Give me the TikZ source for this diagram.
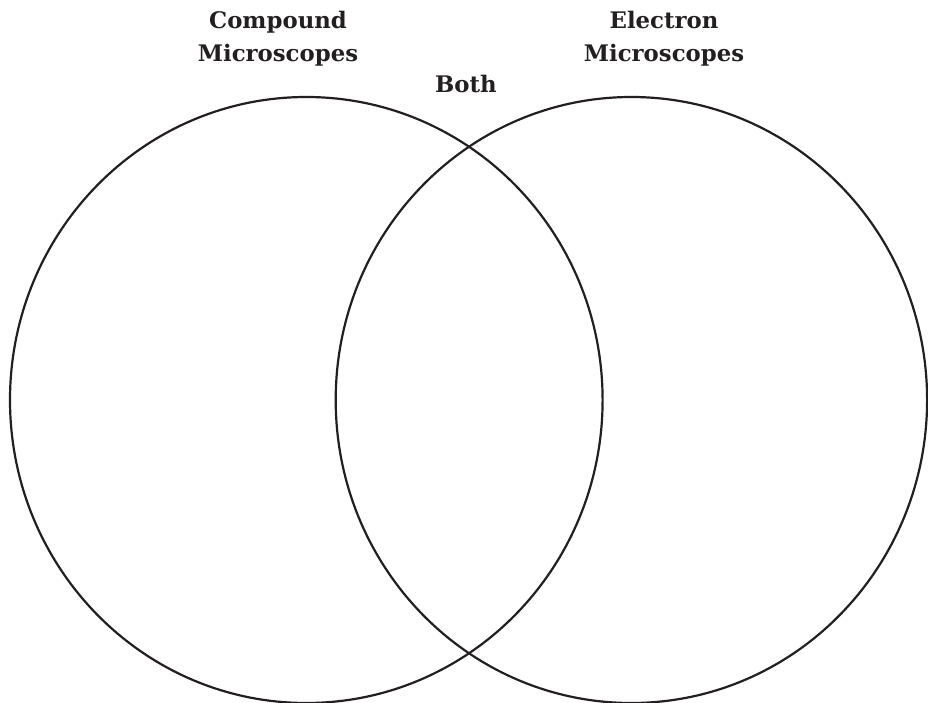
\documentclass[tikz,border=0pt]{standalone}
\usepackage{fontspec}
\setmainfont{DejaVu Serif}
\begin{document}
\begin{tikzpicture}[x=1pt,y=-1pt,
  ring/.style={draw=ink,line width=2.2pt},
  heading/.style={anchor=base,inner sep=0pt,text=ink,font=\fontsize{22.8}{27}\selectfont\bfseries}]
\definecolor{ink}{HTML}{231F20}
\useasboundingbox (0,0) rectangle (928,703);
\clip (0,0) rectangle (928,703);
% two overlapping rings
\draw[ring] (306.3,400) ellipse [x radius=296.3, y radius=303];
\draw[ring] (631.4,400) ellipse [x radius=295.7, y radius=303];
% headings
\node[heading] (c1) at (278,29) {Compound};
\node[heading] (c2) at (278,62) {Microscopes};
\node[heading] (e1) at (664,29) {Electron};
\node[heading] (e2) at (664,62) {Microscopes};
\node[heading] (b) at (466,93) {Both};
\end{tikzpicture}
\end{document}
